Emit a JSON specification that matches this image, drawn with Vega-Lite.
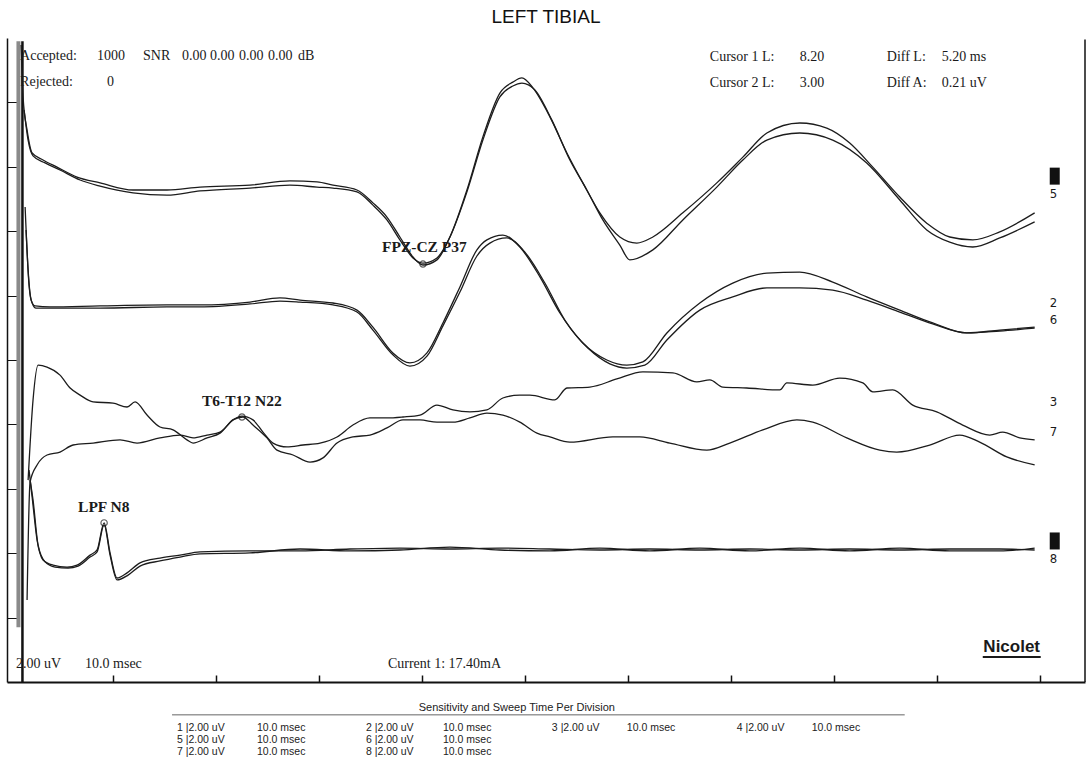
{
"$schema": "https://vega.github.io/schema/vega-lite/v6.json",
"width": 1078, "height": 644,
"autosize": {"type": "none"},
"padding": {"left": 7, "top": 38, "right": 3, "bottom": 85},
"background": "white",
"title": {"text": "LEFT TIBIAL", "fontSize": 19, "font": "Liberation Sans", "fontWeight": "normal", "anchor": "middle", "offset": 11, "color": "#111"},
"config": {"view": {"stroke": null}, "axis": {"grid": false, "labels": false, "title": null, "domainColor": "#111", "tickColor": "#111"}},
"datasets": {
"traces": [
{"ch":"1","t":1.07,"uV":19.78},{"ch":"1","t":1.26,"uV":18.17},{"ch":"1","t":1.65,"uV":17.14},{"ch":"1","t":2.14,"uV":16.43},{"ch":"1","t":3.20,"uV":16.21},{"ch":"1","t":4.56,"uV":15.99},{"ch":"1","t":6.50,"uV":15.68},{"ch":"1","t":8.74,"uV":15.50},{"ch":"1","t":11.94,"uV":15.28},{"ch":"1","t":15.24,"uV":15.28},{"ch":"1","t":18.45,"uV":15.37},{"ch":"1","t":23.30,"uV":15.43},{"ch":"1","t":27.18,"uV":15.56},{"ch":"1","t":29.81,"uV":15.53},{"ch":"1","t":31.36,"uV":15.43},{"ch":"1","t":33.69,"uV":15.28},{"ch":"1","t":35.24,"uV":14.88},{"ch":"1","t":36.60,"uV":14.44},{"ch":"1","t":37.86,"uV":13.82},{"ch":"1","t":39.13,"uV":13.20},{"ch":"1","t":40.10,"uV":12.95},{"ch":"1","t":41.46,"uV":13.11},{"ch":"1","t":42.72,"uV":13.82},{"ch":"1","t":44.37,"uV":15.28},{"ch":"1","t":45.92,"uV":16.93},{"ch":"1","t":47.57,"uV":18.29},{"ch":"1","t":48.83,"uV":18.63},{"ch":"1","t":49.71,"uV":18.76},{"ch":"1","t":50.78,"uV":18.45},{"ch":"1","t":52.43,"uV":17.55},{"ch":"1","t":54.08,"uV":16.43},{"ch":"1","t":55.63,"uV":15.50},{"ch":"1","t":57.28,"uV":14.57},{"ch":"1","t":59.22,"uV":13.82},{"ch":"1","t":60.87,"uV":13.63},{"ch":"1","t":62.43,"uV":13.82},{"ch":"1","t":65.34,"uV":14.57},{"ch":"1","t":68.64,"uV":15.50},{"ch":"1","t":71.17,"uV":16.30},{"ch":"1","t":73.50,"uV":17.05},{"ch":"1","t":76.70,"uV":17.36},{"ch":"1","t":79.32,"uV":17.20},{"ch":"1","t":81.55,"uV":16.74},{"ch":"1","t":83.79,"uV":15.99},{"ch":"1","t":86.41,"uV":15.06},{"ch":"1","t":89.03,"uV":14.25},{"ch":"1","t":91.26,"uV":13.82},{"ch":"1","t":93.50,"uV":13.73},{"ch":"1","t":96.12,"uV":13.98},{"ch":"1","t":99.51,"uV":14.57},
{"ch":"5","t":1.36,"uV":17.76},{"ch":"5","t":1.75,"uV":16.83},{"ch":"5","t":2.23,"uV":16.34},{"ch":"5","t":3.40,"uV":16.12},{"ch":"5","t":4.85,"uV":15.90},{"ch":"5","t":6.80,"uV":15.59},{"ch":"5","t":8.74,"uV":15.40},{"ch":"5","t":11.94,"uV":15.19},{"ch":"5","t":15.24,"uV":15.12},{"ch":"5","t":18.45,"uV":15.25},{"ch":"5","t":23.30,"uV":15.34},{"ch":"5","t":27.18,"uV":15.43},{"ch":"5","t":29.81,"uV":15.37},{"ch":"5","t":31.36,"uV":15.34},{"ch":"5","t":33.69,"uV":15.22},{"ch":"5","t":35.24,"uV":14.81},{"ch":"5","t":36.60,"uV":14.35},{"ch":"5","t":37.86,"uV":13.73},{"ch":"5","t":39.13,"uV":13.17},{"ch":"5","t":40.10,"uV":13.01},{"ch":"5","t":41.46,"uV":13.17},{"ch":"5","t":42.72,"uV":13.82},{"ch":"5","t":44.37,"uV":15.22},{"ch":"5","t":45.92,"uV":16.83},{"ch":"5","t":47.57,"uV":18.17},{"ch":"5","t":48.83,"uV":18.51},{"ch":"5","t":49.71,"uV":18.60},{"ch":"5","t":50.97,"uV":18.39},{"ch":"5","t":52.62,"uV":17.45},{"ch":"5","t":54.37,"uV":16.21},{"ch":"5","t":56.02,"uV":15.28},{"ch":"5","t":57.57,"uV":14.35},{"ch":"5","t":59.22,"uV":13.57},{"ch":"5","t":60.19,"uV":13.11},{"ch":"5","t":62.43,"uV":13.42},{"ch":"5","t":65.34,"uV":14.35},{"ch":"5","t":68.64,"uV":15.37},{"ch":"5","t":71.17,"uV":16.21},{"ch":"5","t":73.50,"uV":16.83},{"ch":"5","t":76.70,"uV":17.05},{"ch":"5","t":79.90,"uV":16.83},{"ch":"5","t":83.20,"uV":16.12},{"ch":"5","t":86.41,"uV":14.97},{"ch":"5","t":89.03,"uV":14.04},{"ch":"5","t":91.26,"uV":13.66},{"ch":"5","t":93.50,"uV":13.51},{"ch":"5","t":96.12,"uV":13.79},{"ch":"5","t":99.51,"uV":14.29},
{"ch":"2","t":1.46,"uV":14.75},{"ch":"2","t":1.75,"uV":12.80},{"ch":"2","t":2.04,"uV":11.86},{"ch":"2","t":2.43,"uV":11.68},{"ch":"2","t":3.88,"uV":11.65},{"ch":"2","t":8.74,"uV":11.68},{"ch":"2","t":15.24,"uV":11.71},{"ch":"2","t":18.45,"uV":11.71},{"ch":"2","t":23.30,"uV":11.80},{"ch":"2","t":26.21,"uV":11.93},{"ch":"2","t":28.16,"uV":11.86},{"ch":"2","t":31.36,"uV":11.77},{"ch":"2","t":33.69,"uV":11.55},{"ch":"2","t":35.24,"uV":11.02},{"ch":"2","t":37.18,"uV":10.22},{"ch":"2","t":38.83,"uV":9.91},{"ch":"2","t":40.49,"uV":10.22},{"ch":"2","t":42.04,"uV":11.15},{"ch":"2","t":43.69,"uV":12.27},{"ch":"2","t":45.34,"uV":13.42},{"ch":"2","t":46.31,"uV":13.73},{"ch":"2","t":47.86,"uV":13.88},{"ch":"2","t":49.51,"uV":13.51},{"ch":"2","t":51.46,"uV":12.58},{"ch":"2","t":53.40,"uV":11.46},{"ch":"2","t":55.63,"uV":10.53},{"ch":"2","t":57.96,"uV":10.00},{"ch":"2","t":59.90,"uV":9.84},{"ch":"2","t":61.46,"uV":9.94},{"ch":"2","t":63.79,"uV":10.84},{"ch":"2","t":66.99,"uV":11.77},{"ch":"2","t":70.19,"uV":12.39},{"ch":"2","t":73.50,"uV":12.70},{"ch":"2","t":76.70,"uV":12.73},{"ch":"2","t":79.90,"uV":12.42},{"ch":"2","t":83.20,"uV":11.96},{"ch":"2","t":86.41,"uV":11.55},{"ch":"2","t":89.61,"uV":11.15},{"ch":"2","t":92.91,"uV":10.84},{"ch":"2","t":96.12,"uV":10.90},{"ch":"2","t":99.51,"uV":10.99},
{"ch":"6","t":1.55,"uV":14.04},{"ch":"6","t":1.84,"uV":12.33},{"ch":"6","t":2.14,"uV":11.77},{"ch":"6","t":2.52,"uV":11.61},{"ch":"6","t":3.88,"uV":11.61},{"ch":"6","t":8.74,"uV":11.61},{"ch":"6","t":15.24,"uV":11.65},{"ch":"6","t":18.45,"uV":11.65},{"ch":"6","t":23.30,"uV":11.74},{"ch":"6","t":26.21,"uV":11.83},{"ch":"6","t":28.16,"uV":11.80},{"ch":"6","t":31.36,"uV":11.71},{"ch":"6","t":33.69,"uV":11.49},{"ch":"6","t":35.24,"uV":10.93},{"ch":"6","t":37.18,"uV":10.16},{"ch":"6","t":38.83,"uV":9.81},{"ch":"6","t":40.49,"uV":10.12},{"ch":"6","t":42.04,"uV":11.06},{"ch":"6","t":43.69,"uV":12.11},{"ch":"6","t":45.34,"uV":13.23},{"ch":"6","t":46.60,"uV":13.63},{"ch":"6","t":48.25,"uV":13.79},{"ch":"6","t":50.00,"uV":13.35},{"ch":"6","t":51.94,"uV":12.39},{"ch":"6","t":53.88,"uV":11.24},{"ch":"6","t":56.12,"uV":10.37},{"ch":"6","t":58.25,"uV":9.88},{"ch":"6","t":59.90,"uV":9.75},{"ch":"6","t":61.65,"uV":9.84},{"ch":"6","t":63.79,"uV":10.62},{"ch":"6","t":66.99,"uV":11.55},{"ch":"6","t":70.19,"uV":11.96},{"ch":"6","t":73.50,"uV":12.24},{"ch":"6","t":76.70,"uV":12.24},{"ch":"6","t":79.90,"uV":12.17},{"ch":"6","t":83.20,"uV":11.86},{"ch":"6","t":86.41,"uV":11.49},{"ch":"6","t":89.61,"uV":11.12},{"ch":"6","t":92.91,"uV":10.84},{"ch":"6","t":96.12,"uV":10.93},{"ch":"6","t":99.51,"uV":11.02},
{"ch":"3","t":1.75,"uV":6.27},{"ch":"3","t":2.23,"uV":8.76},{"ch":"3","t":2.72,"uV":9.84},{"ch":"3","t":3.59,"uV":9.78},{"ch":"3","t":4.85,"uV":9.53},{"ch":"3","t":5.83,"uV":9.13},{"ch":"3","t":6.80,"uV":8.91},{"ch":"3","t":8.06,"uV":8.70},{"ch":"3","t":10.00,"uV":8.66},{"ch":"3","t":11.36,"uV":8.54},{"ch":"3","t":12.14,"uV":8.70},{"ch":"3","t":13.30,"uV":8.29},{"ch":"3","t":14.56,"uV":7.92},{"ch":"3","t":15.83,"uV":7.83},{"ch":"3","t":17.18,"uV":7.52},{"ch":"3","t":17.77,"uV":7.42},{"ch":"3","t":19.13,"uV":7.58},{"ch":"3","t":20.39,"uV":7.73},{"ch":"3","t":21.65,"uV":8.14},{"ch":"3","t":22.52,"uV":8.26},{"ch":"3","t":23.59,"uV":8.14},{"ch":"3","t":24.56,"uV":7.76},{"ch":"3","t":25.53,"uV":7.42},{"ch":"3","t":26.89,"uV":7.30},{"ch":"3","t":28.45,"uV":7.36},{"ch":"3","t":30.10,"uV":7.42},{"ch":"3","t":31.75,"uV":7.61},{"ch":"3","t":33.30,"uV":7.98},{"ch":"3","t":34.95,"uV":8.20},{"ch":"3","t":36.60,"uV":8.20},{"ch":"3","t":38.16,"uV":8.23},{"ch":"3","t":39.81,"uV":8.29},{"ch":"3","t":41.46,"uV":8.60},{"ch":"3","t":43.01,"uV":8.45},{"ch":"3","t":44.66,"uV":8.39},{"ch":"3","t":46.31,"uV":8.45},{"ch":"3","t":47.86,"uV":8.82},{"ch":"3","t":49.51,"uV":8.91},{"ch":"3","t":50.49,"uV":8.91},{"ch":"3","t":52.91,"uV":8.76},{"ch":"3","t":54.08,"uV":9.13},{"ch":"3","t":56.31,"uV":9.16},{"ch":"3","t":58.93,"uV":9.41},{"ch":"3","t":61.46,"uV":9.63},{"ch":"3","t":64.37,"uV":9.60},{"ch":"3","t":66.70,"uV":9.32},{"ch":"3","t":67.96,"uV":9.38},{"ch":"3","t":69.22,"uV":9.16},{"ch":"3","t":71.55,"uV":9.13},{"ch":"3","t":74.76,"uV":9.07},{"ch":"3","t":75.44,"uV":9.29},{"ch":"3","t":77.96,"uV":9.22},{"ch":"3","t":80.58,"uV":9.44},{"ch":"3","t":82.82,"uV":9.29},{"ch":"3","t":83.79,"uV":9.01},{"ch":"3","t":85.73,"uV":9.07},{"ch":"3","t":87.67,"uV":8.60},{"ch":"3","t":90.00,"uV":8.39},{"ch":"3","t":92.52,"uV":7.98},{"ch":"3","t":95.15,"uV":7.67},{"ch":"3","t":96.41,"uV":7.76},{"ch":"3","t":98.06,"uV":7.58},{"ch":"3","t":99.51,"uV":7.52},
{"ch":"7","t":1.65,"uV":2.55},{"ch":"7","t":1.94,"uV":6.21},{"ch":"7","t":2.62,"uV":6.74},{"ch":"7","t":3.59,"uV":7.05},{"ch":"7","t":4.85,"uV":7.14},{"ch":"7","t":6.12,"uV":7.36},{"ch":"7","t":8.06,"uV":7.42},{"ch":"7","t":10.68,"uV":7.52},{"ch":"7","t":12.33,"uV":7.42},{"ch":"7","t":14.56,"uV":7.58},{"ch":"7","t":16.50,"uV":7.67},{"ch":"7","t":17.77,"uV":7.58},{"ch":"7","t":19.13,"uV":7.67},{"ch":"7","t":20.39,"uV":7.76},{"ch":"7","t":21.65,"uV":8.14},{"ch":"7","t":22.62,"uV":8.23},{"ch":"7","t":23.59,"uV":7.98},{"ch":"7","t":24.95,"uV":7.58},{"ch":"7","t":25.92,"uV":7.20},{"ch":"7","t":27.48,"uV":7.05},{"ch":"7","t":29.13,"uV":6.83},{"ch":"7","t":30.39,"uV":6.96},{"ch":"7","t":31.75,"uV":7.42},{"ch":"7","t":33.30,"uV":7.61},{"ch":"7","t":34.95,"uV":7.67},{"ch":"7","t":36.60,"uV":7.89},{"ch":"7","t":38.16,"uV":8.14},{"ch":"7","t":39.81,"uV":8.14},{"ch":"7","t":41.46,"uV":8.07},{"ch":"7","t":43.01,"uV":8.07},{"ch":"7","t":44.66,"uV":8.20},{"ch":"7","t":46.31,"uV":8.35},{"ch":"7","t":47.86,"uV":8.29},{"ch":"7","t":49.51,"uV":8.07},{"ch":"7","t":51.17,"uV":7.73},{"ch":"7","t":52.43,"uV":7.61},{"ch":"7","t":54.37,"uV":7.45},{"ch":"7","t":58.54,"uV":7.61},{"ch":"7","t":61.17,"uV":7.61},{"ch":"7","t":64.08,"uV":7.42},{"ch":"7","t":67.67,"uV":7.20},{"ch":"7","t":69.90,"uV":7.42},{"ch":"7","t":73.11,"uV":7.83},{"ch":"7","t":76.41,"uV":8.14},{"ch":"7","t":77.96,"uV":8.07},{"ch":"7","t":81.26,"uV":7.58},{"ch":"7","t":84.47,"uV":7.20},{"ch":"7","t":86.12,"uV":7.14},{"ch":"7","t":89.32,"uV":7.36},{"ch":"7","t":92.23,"uV":7.67},{"ch":"7","t":94.17,"uV":7.45},{"ch":"7","t":96.80,"uV":6.99},{"ch":"7","t":99.51,"uV":6.74},
{"ch":"4","t":1.84,"uV":6.58},{"ch":"4","t":2.14,"uV":5.75},{"ch":"4","t":2.62,"uV":4.41},{"ch":"4","t":3.20,"uV":3.79},{"ch":"4","t":4.17,"uV":3.63},{"ch":"4","t":5.53,"uV":3.57},{"ch":"4","t":6.50,"uV":3.63},{"ch":"4","t":7.77,"uV":3.94},{"ch":"4","t":8.45,"uV":4.10},{"ch":"4","t":9.13,"uV":4.94},{"ch":"4","t":9.71,"uV":4.01},{"ch":"4","t":10.39,"uV":3.23},{"ch":"4","t":11.36,"uV":3.39},{"ch":"4","t":12.62,"uV":3.70},{"ch":"4","t":14.56,"uV":3.85},{"ch":"4","t":16.50,"uV":3.94},{"ch":"4","t":18.45,"uV":4.04},{"ch":"4","t":23.30,"uV":4.07},{"ch":"4","t":28.16,"uV":4.07},{"ch":"4","t":33.01,"uV":4.13},{"ch":"4","t":37.86,"uV":4.16},{"ch":"4","t":42.72,"uV":4.13},{"ch":"4","t":47.57,"uV":4.16},{"ch":"4","t":52.43,"uV":4.13},{"ch":"4","t":57.28,"uV":4.10},{"ch":"4","t":62.14,"uV":4.13},{"ch":"4","t":66.99,"uV":4.10},{"ch":"4","t":71.84,"uV":4.13},{"ch":"4","t":76.70,"uV":4.10},{"ch":"4","t":81.55,"uV":4.13},{"ch":"4","t":86.41,"uV":4.10},{"ch":"4","t":91.26,"uV":4.13},{"ch":"4","t":96.12,"uV":4.13},{"ch":"4","t":99.51,"uV":4.10},
{"ch":"8","t":1.94,"uV":6.27},{"ch":"8","t":2.23,"uV":5.65},{"ch":"8","t":2.72,"uV":4.25},{"ch":"8","t":3.40,"uV":3.73},{"ch":"8","t":4.37,"uV":3.57},{"ch":"8","t":5.63,"uV":3.54},{"ch":"8","t":6.60,"uV":3.60},{"ch":"8","t":7.77,"uV":3.88},{"ch":"8","t":8.45,"uV":4.04},{"ch":"8","t":9.13,"uV":4.88},{"ch":"8","t":9.71,"uV":3.94},{"ch":"8","t":10.39,"uV":3.17},{"ch":"8","t":11.46,"uV":3.32},{"ch":"8","t":12.62,"uV":3.60},{"ch":"8","t":14.56,"uV":3.76},{"ch":"8","t":16.50,"uV":3.88},{"ch":"8","t":18.45,"uV":3.98},{"ch":"8","t":23.30,"uV":4.01},{"ch":"8","t":28.16,"uV":4.13},{"ch":"8","t":33.01,"uV":4.07},{"ch":"8","t":37.86,"uV":4.10},{"ch":"8","t":42.72,"uV":4.19},{"ch":"8","t":47.57,"uV":4.10},{"ch":"8","t":52.43,"uV":4.07},{"ch":"8","t":57.28,"uV":4.16},{"ch":"8","t":62.14,"uV":4.07},{"ch":"8","t":66.99,"uV":4.16},{"ch":"8","t":71.84,"uV":4.07},{"ch":"8","t":76.70,"uV":4.16},{"ch":"8","t":81.55,"uV":4.07},{"ch":"8","t":86.41,"uV":4.16},{"ch":"8","t":91.26,"uV":4.07},{"ch":"8","t":96.12,"uV":4.07},{"ch":"8","t":99.51,"uV":4.16}
],
"header": [
{"label":"Accepted:","t":0.97,"uV":19.44},{"label":"1000","t":8.45,"uV":19.44},{"label":"SNR","t":12.91,"uV":19.44},{"label":"0.00","t":16.70,"uV":19.44},{"label":"0.00","t":19.42,"uV":19.44},{"label":"0.00","t":22.23,"uV":19.44},{"label":"0.00","t":25.05,"uV":19.44},{"label":"dB","t":27.96,"uV":19.44},
{"label":"Rejected:","t":0.97,"uV":18.63},{"label":"0","t":9.42,"uV":18.63},
{"label":"Cursor 1 L:","t":67.96,"uV":19.40},{"label":"8.20","t":76.70,"uV":19.40},{"label":"Diff L:","t":85.15,"uV":19.40},{"label":"5.20 ms","t":90.49,"uV":19.40},
{"label":"Cursor 2 L:","t":67.96,"uV":18.60},{"label":"3.00","t":76.70,"uV":18.60},{"label":"Diff A:","t":85.15,"uV":18.60},{"label":"0.21 uV","t":90.49,"uV":18.60},
{"label":"2.00 uV","t":0.58,"uV":0.56},{"label":"10.0 msec","t":7.28,"uV":0.56},{"label":"Current 1: 17.40mA","t":36.70,"uV":0.56}
],
"peaks": [
{"label":"FPZ-CZ P37","lt":36.12,"luV":13.51,"t":40.10,"uV":12.98},
{"label":"T6-T12 N22","lt":18.64,"luV":8.74,"t":22.52,"uV":8.23},
{"label":"LPF N8","lt":6.60,"luV":5.43,"t":9.13,"uV":4.94}
],
"chlabels": [
{"label":"5","t":100.97,"uV":15.16},{"label":"2","t":100.97,"uV":11.77},{"label":"6","t":100.97,"uV":11.24},{"label":"3","t":100.97,"uV":8.70},{"label":"7","t":100.97,"uV":7.76},{"label":"8","t":100.97,"uV":3.82}
],
"cursors": [{"ch":"5","t":101.46,"uV":15.71},{"ch":"8","t":101.46,"uV":4.38}],
"table": [
{"label":"1 |2.00 uV","t":16.21,"uV":-1.43},{"label":"10.0 msec","t":23.98,"uV":-1.43},{"label":"2 |2.00 uV","t":34.56,"uV":-1.43},{"label":"10.0 msec","t":42.04,"uV":-1.43},{"label":"3 |2.00 uV","t":52.62,"uV":-1.43},{"label":"10.0 msec","t":59.90,"uV":-1.43},{"label":"4 |2.00 uV","t":70.58,"uV":-1.43},{"label":"10.0 msec","t":77.86,"uV":-1.43},
{"label":"5 |2.00 uV","t":16.21,"uV":-1.80},{"label":"10.0 msec","t":23.98,"uV":-1.80},{"label":"6 |2.00 uV","t":34.56,"uV":-1.80},{"label":"10.0 msec","t":42.04,"uV":-1.80},
{"label":"7 |2.00 uV","t":16.21,"uV":-2.17},{"label":"10.0 msec","t":23.98,"uV":-2.17},{"label":"8 |2.00 uV","t":34.56,"uV":-2.17},{"label":"10.0 msec","t":42.04,"uV":-2.17}
]
},
"layer": [
{"data": {"values": [{"t": 1.2, "lo": 1.7, "hi": 19.9}]},
 "mark": {"type": "rule", "color": "#8a8a8a", "strokeWidth": 4, "xOffset": -4, "clip": false},
 "encoding": {"x": {"field": "t", "type": "quantitative"}, "y": {"field": "lo", "type": "quantitative"}, "y2": {"field": "hi"}}},
{"data": {"values": [{"t": 1.2, "lo": 0, "hi": 19.9}]},
 "mark": {"type": "rule", "color": "#111", "strokeWidth": 2.5, "clip": false},
 "encoding": {"x": {"field": "t", "type": "quantitative"}, "y": {"field": "lo", "type": "quantitative"}, "y2": {"field": "hi"}}},
{"data": {"values": [{"t": 104.4, "lo": 0, "hi": 19.95}]},
 "mark": {"type": "rule", "color": "#111", "strokeWidth": 1.5, "clip": false},
 "encoding": {"x": {"field": "t", "type": "quantitative"}, "y": {"field": "lo", "type": "quantitative"}, "y2": {"field": "hi"}}},
{"data": {"name": "traces"},
 "mark": {"type": "line", "interpolate": "monotone", "color": "#1c1c1c", "strokeWidth": 1.3, "clip": false},
 "encoding": {
  "x": {"field": "t", "type": "quantitative", "scale": {"domain": [-0.3, 104.4], "nice": false, "zero": false},
        "axis": {"values": [10,20,30,40,50,60,70,80,90,100], "tickSize": -7, "tickWidth": 1.5, "domainWidth": 2, "labels": false, "title": null}},
  "y": {"field": "uV", "type": "quantitative", "scale": {"domain": [0, 20], "nice": false, "zero": false},
        "axis": {"values": [2,4,6,8,10,12,14,16,18], "tickSize": -10, "tickWidth": 1, "domainWidth": 1.5, "labels": false, "title": null}},
  "detail": {"field": "ch", "type": "nominal"}}},
{"data": {"name": "header"},
 "mark": {"type": "text", "align": "left", "baseline": "middle", "font": "Liberation Serif", "fontSize": 14, "color": "#1a1a1a"},
 "encoding": {"x": {"field": "t", "type": "quantitative"}, "y": {"field": "uV", "type": "quantitative"}, "text": {"field": "label"}}},
{"data": {"name": "peaks"},
 "mark": {"type": "text", "align": "left", "baseline": "middle", "font": "Liberation Serif", "fontSize": 15.5, "fontWeight": "bold", "color": "#1a1a1a"},
 "encoding": {"x": {"field": "lt", "type": "quantitative"}, "y": {"field": "luV", "type": "quantitative"}, "text": {"field": "label"}}},
{"data": {"name": "peaks"},
 "mark": {"type": "point", "shape": "circle", "filled": false, "size": 40, "color": "#1a1a1a", "strokeWidth": 1.2},
 "encoding": {"x": {"field": "t", "type": "quantitative"}, "y": {"field": "uV", "type": "quantitative"}}},
{"data": {"name": "chlabels"},
 "mark": {"type": "text", "align": "left", "baseline": "middle", "font": "Liberation Sans Narrow, DejaVu Sans Condensed, Liberation Sans", "fontSize": 13, "color": "#1a1a1a"},
 "encoding": {"x": {"field": "t", "type": "quantitative"}, "y": {"field": "uV", "type": "quantitative"}, "text": {"field": "label"}}},
{"data": {"name": "cursors"},
 "mark": {"type": "point", "shape": "M-0.5,-0.85L0.5,-0.85L0.5,0.85L-0.5,0.85Z", "filled": true, "size": 400, "color": "#111", "opacity": 1, "clip": false},
 "encoding": {"x": {"field": "t", "type": "quantitative"}, "y": {"field": "uV", "type": "quantitative"}}},
{"data": {"values": [{"label": "Nicolet", "t": 97.28, "uV": 1.09}]},
 "mark": {"type": "text", "align": "center", "baseline": "middle", "font": "Liberation Sans", "fontSize": 17, "fontWeight": "bold", "color": "#1a1a1a"},
 "encoding": {"x": {"field": "t", "type": "quantitative"}, "y": {"field": "uV", "type": "quantitative"}, "text": {"field": "label"}}},
{"data": {"values": [{"t": 94.47, "t2": 100.10, "uV": 0.78}]},
 "mark": {"type": "rule", "color": "#1a1a1a", "strokeWidth": 2},
 "encoding": {"x": {"field": "t", "type": "quantitative"}, "x2": {"field": "t2"}, "y": {"field": "uV", "type": "quantitative"}}},
{"data": {"values": [{"label": "Sensitivity and Sweep Time Per Division", "t": 49.22, "uV": -0.81}]},
 "mark": {"type": "text", "align": "center", "baseline": "middle", "font": "Liberation Sans", "fontSize": 11, "color": "#222", "clip": false},
 "encoding": {"x": {"field": "t", "type": "quantitative"}, "y": {"field": "uV", "type": "quantitative"}, "text": {"field": "label"}}},
{"data": {"values": [{"t": 15.73, "t2": 86.89, "uV": -1.02}]},
 "mark": {"type": "rule", "color": "#666", "strokeWidth": 1, "clip": false},
 "encoding": {"x": {"field": "t", "type": "quantitative"}, "x2": {"field": "t2"}, "y": {"field": "uV", "type": "quantitative"}}},
{"data": {"name": "table"},
 "mark": {"type": "text", "align": "left", "baseline": "middle", "font": "Liberation Sans", "fontSize": 10.5, "color": "#222", "clip": false},
 "encoding": {"x": {"field": "t", "type": "quantitative"}, "y": {"field": "uV", "type": "quantitative"}, "text": {"field": "label"}}}
]
}
